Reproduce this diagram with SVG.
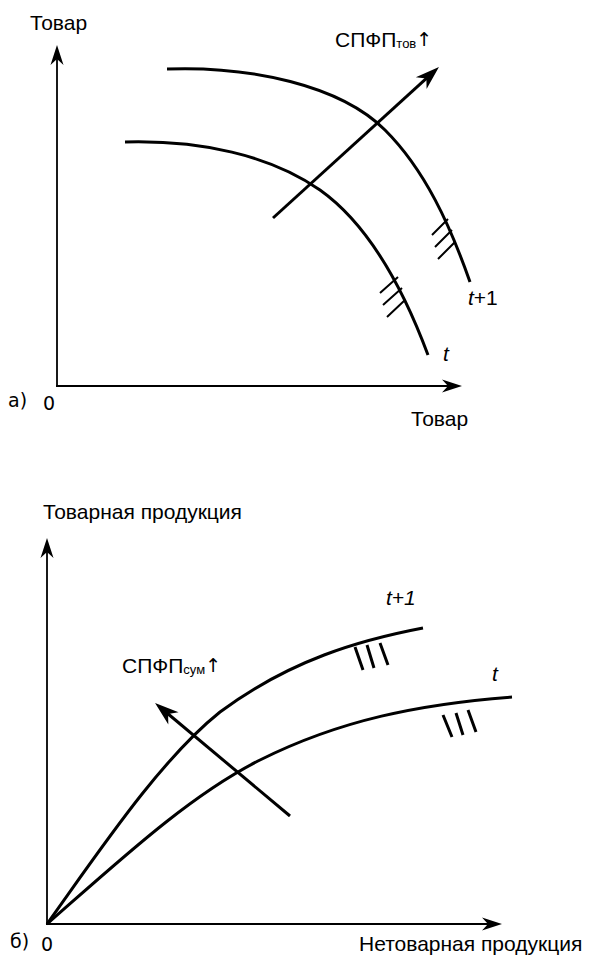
<svg xmlns="http://www.w3.org/2000/svg" width="589" height="959" viewBox="0 0 589 959">
<style>
  .axis { fill: none; stroke: #000; stroke-width: 1.8; }
  .curve { fill: none; stroke: #000; stroke-width: 3; stroke-linecap: butt; }
  .vec { fill: none; stroke: #000; stroke-width: 3; }
  .hatch { fill: none; stroke: #000; stroke-width: 2; }
  .hatch2 { fill: none; stroke: #000; stroke-width: 3; }
  .lbl { font-family: "Liberation Sans", Arial, sans-serif; font-size: 21px; fill: #000; }
  .sub { font-size: 13px; }
  .up { font-family: "DejaVu Sans", sans-serif; font-size: 19px; }
  .it { font-style: italic; }
  .num { font-family: "DejaVu Sans", Verdana, sans-serif; font-size: 19px; fill: #000; }
</style>
<defs>
  <marker id="axArrow" viewBox="-21 -8 23 16" markerWidth="23" markerHeight="16" refX="-12" refY="0" orient="auto" markerUnits="userSpaceOnUse">
    <path d="M0,0 L-20,-6.5 L-14,0 L-20,6.5 Z" fill="#000"/>
  </marker>
  <marker id="vecArrow" viewBox="-26 -10 28 20" markerWidth="28" markerHeight="20" refX="-14" refY="0" orient="auto" markerUnits="userSpaceOnUse">
    <path d="M0,0 L-24,-8 L-17,0 L-24,8 Z" fill="#000"/>
  </marker>
</defs>

<g id="chart-a">
  <g id="axes-a">
    <path class="axis" d="M57,386 L57,57" marker-end="url(#axArrow)"/>
    <path class="axis" d="M56,386 L450,386" marker-end="url(#axArrow)"/>
  </g>
  <g id="curve-a-t1">
    <path class="curve" d="M167,69 C250,66 340,85 385,130 C425,170 450,225 470,282"/>
    <path class="hatch" d="M448,219 L432,235 M452,230 L435,247 M455,242 L438,259"/>
  </g>
  <g id="curve-a-t">
    <path class="curve" d="M125,142 C200,140 270,155 320,190 C365,222 400,280 428,355"/>
    <path class="hatch" d="M398,277 L380,293 M402,288 L383,305 M405,300 L387,317"/>
  </g>
  <g id="vector-a">
    <path class="vec" d="M273,218 L428.6,76.4" marker-end="url(#vecArrow)"/>
  </g>
  <g id="labels-a">
    <text class="lbl" x="30" y="30">Товар</text>
    <text class="lbl" x="335" y="47">СПФП<tspan class="sub" dy="1">тов</tspan><tspan class="up" dy="-2">↑</tspan></text>
    <text class="lbl" x="468" y="305"><tspan class="it">t</tspan>+1</text>
    <text class="lbl it" x="443" y="361">t</text>
    <text class="num" x="8" y="407">а)</text>
    <text class="num" x="43" y="410">0</text>
    <text class="lbl" x="411" y="426">Товар</text>
  </g>
</g>

<g id="chart-b">
  <g id="axes-b">
    <path class="axis" d="M47,925 L47,550" marker-end="url(#axArrow)"/>
    <path class="axis" d="M46,924 L490,924" marker-end="url(#axArrow)"/>
  </g>
  <g id="curve-b-t1">
    <path class="curve" d="M47,924 C100,850 160,760 220,712 C290,660 360,640 423,628"/>
    <path class="hatch2" d="M355,647 L363,670 M367,645 L374,668 M380,643 L388,665"/>
  </g>
  <g id="curve-b-t">
    <path class="curve" d="M47,924 C120,860 190,795 260,760 C340,720 420,704 512,697"/>
    <path class="hatch2" d="M443,715 L452,737 M456,713 L463,735 M468,710 L476,732"/>
  </g>
  <g id="vector-b">
    <path class="vec" d="M290,816 L165.8,712" marker-end="url(#vecArrow)"/>
  </g>
  <g id="labels-b">
    <text class="lbl" x="43" y="519">Товарная продукция</text>
    <text class="lbl it" x="386" y="605">t+1</text>
    <text class="lbl it" x="492" y="681">t</text>
    <text class="lbl" x="122" y="673">СПФП<tspan class="sub" dy="1">сум</tspan><tspan class="up" dy="-2">↑</tspan></text>
    <text class="num" x="10" y="948">б)</text>
    <text class="num" x="41" y="951">0</text>
    <text class="lbl" x="359" y="951">Нетоварная продукция</text>
  </g>
</g>
</svg>
